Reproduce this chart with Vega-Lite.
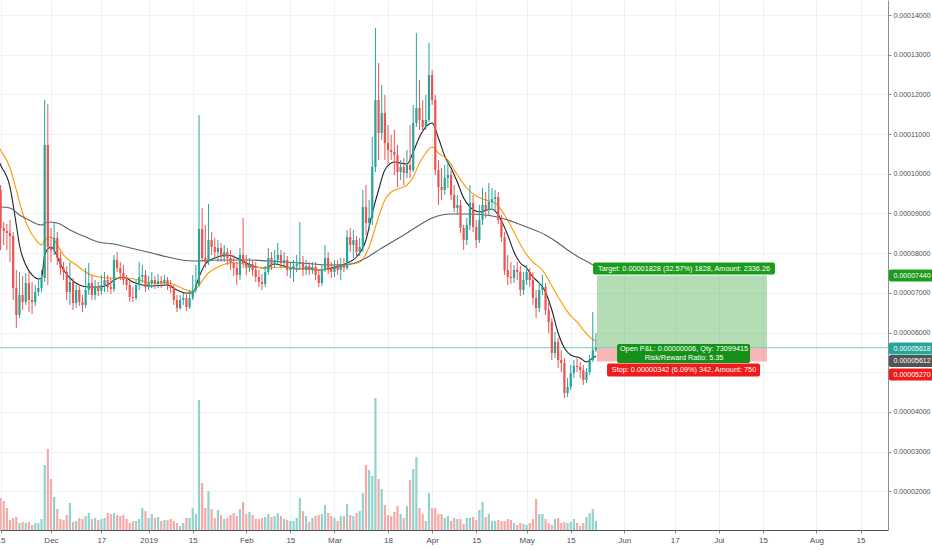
{
"$schema": "https://vega.github.io/schema/vega-lite/v6.json",
"width": 888, "height": 530,
"autosize": {"type": "none"},
"padding": {"left": 0, "top": 0, "right": 44, "bottom": 20},
"background": "white",
"config": {"view": {"stroke": null}, "font": "Liberation Sans, Arial, sans-serif"},
"datasets": {
"candles": [
{"date":"2018-11-15","open":0.00009592,"high":0.00009718,"low":0.00008081,"close":0.00008635,"volume":32},
{"date":"2018-11-16","open":0.00008635,"high":0.00008786,"low":0.00008206,"close":0.00008559,"volume":29},
{"date":"2018-11-17","open":0.00008559,"high":0.00008735,"low":0.00008081,"close":0.00008509,"volume":22},
{"date":"2018-11-18","open":0.00008509,"high":0.00008836,"low":0.00007778,"close":0.00008433,"volume":10},
{"date":"2018-11-19","open":0.00008433,"high":0.00008534,"low":0.00006821,"close":0.00007123,"volume":12},
{"date":"2018-11-20","open":0.00007123,"high":0.00007577,"low":0.00006116,"close":0.00006443,"volume":13},
{"date":"2018-11-21","open":0.00006443,"high":0.00007526,"low":0.00006368,"close":0.00006947,"volume":7},
{"date":"2018-11-22","open":0.00006947,"high":0.00007426,"low":0.00006569,"close":0.00006771,"volume":8},
{"date":"2018-11-23","open":0.00006771,"high":0.00007501,"low":0.00006695,"close":0.00007249,"volume":7},
{"date":"2018-11-24","open":0.00007249,"high":0.00007526,"low":0.00006519,"close":0.00006821,"volume":8},
{"date":"2018-11-25","open":0.00006821,"high":0.00007274,"low":0.00006468,"close":0.00006771,"volume":5},
{"date":"2018-11-26","open":0.00006771,"high":0.00007199,"low":0.00006670,"close":0.00007023,"volume":7},
{"date":"2018-11-27","open":0.00007023,"high":0.00007375,"low":0.00006922,"close":0.00007123,"volume":7},
{"date":"2018-11-28","open":0.00007123,"high":0.00007577,"low":0.00007023,"close":0.00007375,"volume":11},
{"date":"2018-11-29","open":0.00007375,"high":0.00011859,"low":0.00007274,"close":0.00010725,"volume":65},
{"date":"2018-11-30","open":0.00010725,"high":0.00011758,"low":0.00007199,"close":0.00008156,"volume":81},
{"date":"2018-12-01","open":0.00008156,"high":0.00008635,"low":0.00007778,"close":0.00008081,"volume":51},
{"date":"2018-12-02","open":0.00008081,"high":0.00008786,"low":0.00007955,"close":0.00008383,"volume":33},
{"date":"2018-12-03","open":0.00008383,"high":0.00008534,"low":0.00007703,"close":0.00007879,"volume":21},
{"date":"2018-12-04","open":0.00007879,"high":0.00008030,"low":0.00007451,"close":0.00007627,"volume":11},
{"date":"2018-12-05","open":0.00007627,"high":0.00007778,"low":0.00007325,"close":0.00007526,"volume":10},
{"date":"2018-12-06","open":0.00007526,"high":0.00007677,"low":0.00006821,"close":0.00007023,"volume":15},
{"date":"2018-12-07","open":0.00007023,"high":0.00007778,"low":0.00006695,"close":0.00007274,"volume":27},
{"date":"2018-12-08","open":0.00007274,"high":0.00007375,"low":0.00006569,"close":0.00006745,"volume":8},
{"date":"2018-12-09","open":0.00006745,"high":0.00007199,"low":0.00006619,"close":0.00007073,"volume":9},
{"date":"2018-12-10","open":0.00007073,"high":0.00007224,"low":0.00006670,"close":0.00006771,"volume":12},
{"date":"2018-12-11","open":0.00006771,"high":0.00006947,"low":0.00006519,"close":0.00006695,"volume":11},
{"date":"2018-12-12","open":0.00006695,"high":0.00007627,"low":0.00006619,"close":0.00007073,"volume":14},
{"date":"2018-12-13","open":0.00007073,"high":0.00007753,"low":0.00006947,"close":0.00007249,"volume":17},
{"date":"2018-12-14","open":0.00007249,"high":0.00007451,"low":0.00006821,"close":0.00006947,"volume":11},
{"date":"2018-12-15","open":0.00006947,"high":0.00007325,"low":0.00006821,"close":0.00007123,"volume":12},
{"date":"2018-12-16","open":0.00007123,"high":0.00007274,"low":0.00006922,"close":0.00007048,"volume":10},
{"date":"2018-12-17","open":0.00007048,"high":0.00007451,"low":0.00006947,"close":0.00007199,"volume":11},
{"date":"2018-12-18","open":0.00007199,"high":0.00007526,"low":0.00007023,"close":0.00007325,"volume":12},
{"date":"2018-12-19","open":0.00007325,"high":0.00007451,"low":0.00007023,"close":0.00007148,"volume":17},
{"date":"2018-12-20","open":0.00007148,"high":0.00007375,"low":0.00006972,"close":0.00007098,"volume":16},
{"date":"2018-12-21","open":0.00007098,"high":0.00007955,"low":0.00007023,"close":0.00007829,"volume":17},
{"date":"2018-12-22","open":0.00007829,"high":0.00008030,"low":0.00007526,"close":0.00007627,"volume":15},
{"date":"2018-12-23","open":0.00007627,"high":0.00007778,"low":0.00007325,"close":0.00007501,"volume":14},
{"date":"2018-12-24","open":0.00007501,"high":0.00007703,"low":0.00007199,"close":0.00007325,"volume":15},
{"date":"2018-12-25","open":0.00007325,"high":0.00007451,"low":0.00007073,"close":0.00007199,"volume":11},
{"date":"2018-12-26","open":0.00007199,"high":0.00007325,"low":0.00006771,"close":0.00006897,"volume":7},
{"date":"2018-12-27","open":0.00006897,"high":0.00007148,"low":0.00006771,"close":0.00006871,"volume":9},
{"date":"2018-12-28","open":0.00006871,"high":0.00007325,"low":0.00006821,"close":0.00007199,"volume":9},
{"date":"2018-12-29","open":0.00007199,"high":0.00007778,"low":0.00007073,"close":0.00007400,"volume":11},
{"date":"2018-12-30","open":0.00007400,"high":0.00007703,"low":0.00007249,"close":0.00007451,"volume":22},
{"date":"2018-12-31","open":0.00007451,"high":0.00007577,"low":0.00007023,"close":0.00007148,"volume":19},
{"date":"2019-01-01","open":0.00007148,"high":0.00007426,"low":0.00007073,"close":0.00007249,"volume":12},
{"date":"2019-01-02","open":0.00007249,"high":0.00007526,"low":0.00007123,"close":0.00007325,"volume":16},
{"date":"2019-01-03","open":0.00007325,"high":0.00007426,"low":0.00007098,"close":0.00007224,"volume":12},
{"date":"2019-01-04","open":0.00007224,"high":0.00007476,"low":0.00007123,"close":0.00007300,"volume":13},
{"date":"2019-01-05","open":0.00007300,"high":0.00007426,"low":0.00007123,"close":0.00007249,"volume":9},
{"date":"2019-01-06","open":0.00007249,"high":0.00007451,"low":0.00007174,"close":0.00007325,"volume":10},
{"date":"2019-01-07","open":0.00007325,"high":0.00007400,"low":0.00007073,"close":0.00007199,"volume":10},
{"date":"2019-01-08","open":0.00007199,"high":0.00007325,"low":0.00006997,"close":0.00007123,"volume":11},
{"date":"2019-01-09","open":0.00007123,"high":0.00007199,"low":0.00006695,"close":0.00006821,"volume":9},
{"date":"2019-01-10","open":0.00006821,"high":0.00006947,"low":0.00006519,"close":0.00006619,"volume":7},
{"date":"2019-01-11","open":0.00006619,"high":0.00006947,"low":0.00006569,"close":0.00006821,"volume":4},
{"date":"2019-01-12","open":0.00006821,"high":0.00006997,"low":0.00006695,"close":0.00006871,"volume":7},
{"date":"2019-01-13","open":0.00006871,"high":0.00006972,"low":0.00006544,"close":0.00006645,"volume":12},
{"date":"2019-01-14","open":0.00006645,"high":0.00007073,"low":0.00006594,"close":0.00006871,"volume":12},
{"date":"2019-01-15","open":0.00006871,"high":0.00007451,"low":0.00006821,"close":0.00007073,"volume":22},
{"date":"2019-01-16","open":0.00007073,"high":0.00007703,"low":0.00006997,"close":0.00007199,"volume":16},
{"date":"2019-01-17","open":0.00007199,"high":0.00011481,"low":0.00007148,"close":0.00008609,"volume":130},
{"date":"2019-01-18","open":0.00008609,"high":0.00009138,"low":0.00007778,"close":0.00007879,"volume":47},
{"date":"2019-01-19","open":0.00007879,"high":0.00008710,"low":0.00007627,"close":0.00007778,"volume":22},
{"date":"2019-01-20","open":0.00007778,"high":0.00009239,"low":0.00007703,"close":0.00008332,"volume":39},
{"date":"2019-01-21","open":0.00008332,"high":0.00008534,"low":0.00007955,"close":0.00008156,"volume":21},
{"date":"2019-01-22","open":0.00008156,"high":0.00008383,"low":0.00007879,"close":0.00008030,"volume":12},
{"date":"2019-01-23","open":0.00008030,"high":0.00008332,"low":0.00007778,"close":0.00008131,"volume":20},
{"date":"2019-01-24","open":0.00008131,"high":0.00008257,"low":0.00007778,"close":0.00007904,"volume":15},
{"date":"2019-01-25","open":0.00007904,"high":0.00008206,"low":0.00007778,"close":0.00008030,"volume":11},
{"date":"2019-01-26","open":0.00008030,"high":0.00008131,"low":0.00007703,"close":0.00007879,"volume":12},
{"date":"2019-01-27","open":0.00007879,"high":0.00008081,"low":0.00007577,"close":0.00007753,"volume":15},
{"date":"2019-01-28","open":0.00007753,"high":0.00007955,"low":0.00007426,"close":0.00007627,"volume":17},
{"date":"2019-01-29","open":0.00007627,"high":0.00007778,"low":0.00007199,"close":0.00007451,"volume":14},
{"date":"2019-01-30","open":0.00007451,"high":0.00008131,"low":0.00007325,"close":0.00007955,"volume":21},
{"date":"2019-01-31","open":0.00007955,"high":0.00008887,"low":0.00007627,"close":0.00007753,"volume":28},
{"date":"2019-02-01","open":0.00007753,"high":0.00007955,"low":0.00007451,"close":0.00007627,"volume":16},
{"date":"2019-02-02","open":0.00007627,"high":0.00007879,"low":0.00007526,"close":0.00007728,"volume":18},
{"date":"2019-02-03","open":0.00007728,"high":0.00007829,"low":0.00007426,"close":0.00007577,"volume":15},
{"date":"2019-02-04","open":0.00007577,"high":0.00007778,"low":0.00007274,"close":0.00007400,"volume":11},
{"date":"2019-02-05","open":0.00007400,"high":0.00007577,"low":0.00007148,"close":0.00007274,"volume":11},
{"date":"2019-02-06","open":0.00007274,"high":0.00007476,"low":0.00007073,"close":0.00007224,"volume":12},
{"date":"2019-02-07","open":0.00007224,"high":0.00007677,"low":0.00007148,"close":0.00007526,"volume":13},
{"date":"2019-02-08","open":0.00007526,"high":0.00008131,"low":0.00007451,"close":0.00007879,"volume":16},
{"date":"2019-02-09","open":0.00007879,"high":0.00008030,"low":0.00007577,"close":0.00007703,"volume":13},
{"date":"2019-02-10","open":0.00007703,"high":0.00008081,"low":0.00007627,"close":0.00007829,"volume":14},
{"date":"2019-02-11","open":0.00007829,"high":0.00008257,"low":0.00007728,"close":0.00007955,"volume":17},
{"date":"2019-02-12","open":0.00007955,"high":0.00008081,"low":0.00007627,"close":0.00007753,"volume":14},
{"date":"2019-02-13","open":0.00007753,"high":0.00008030,"low":0.00007627,"close":0.00007829,"volume":11},
{"date":"2019-02-14","open":0.00007829,"high":0.00007929,"low":0.00007426,"close":0.00007577,"volume":10},
{"date":"2019-02-15","open":0.00007577,"high":0.00007778,"low":0.00007375,"close":0.00007627,"volume":9},
{"date":"2019-02-16","open":0.00007627,"high":0.00007829,"low":0.00007274,"close":0.00007677,"volume":9},
{"date":"2019-02-17","open":0.00007677,"high":0.00007955,"low":0.00007526,"close":0.00007728,"volume":12},
{"date":"2019-02-18","open":0.00007728,"high":0.00008786,"low":0.00007577,"close":0.00007778,"volume":32},
{"date":"2019-02-19","open":0.00007778,"high":0.00007929,"low":0.00007426,"close":0.00007577,"volume":19},
{"date":"2019-02-20","open":0.00007577,"high":0.00007829,"low":0.00007451,"close":0.00007677,"volume":14},
{"date":"2019-02-21","open":0.00007677,"high":0.00007778,"low":0.00007451,"close":0.00007577,"volume":8},
{"date":"2019-02-22","open":0.00007577,"high":0.00007778,"low":0.00007476,"close":0.00007652,"volume":12},
{"date":"2019-02-23","open":0.00007652,"high":0.00007778,"low":0.00007325,"close":0.00007451,"volume":14},
{"date":"2019-02-24","open":0.00007451,"high":0.00007577,"low":0.00007148,"close":0.00007249,"volume":15},
{"date":"2019-02-25","open":0.00007249,"high":0.00007703,"low":0.00007174,"close":0.00007577,"volume":16},
{"date":"2019-02-26","open":0.00007577,"high":0.00008206,"low":0.00007526,"close":0.00007879,"volume":25},
{"date":"2019-02-27","open":0.00007879,"high":0.00008030,"low":0.00007476,"close":0.00007627,"volume":17},
{"date":"2019-02-28","open":0.00007627,"high":0.00007778,"low":0.00007375,"close":0.00007526,"volume":14},
{"date":"2019-03-01","open":0.00007526,"high":0.00007829,"low":0.00007400,"close":0.00007677,"volume":12},
{"date":"2019-03-02","open":0.00007677,"high":0.00007829,"low":0.00007451,"close":0.00007577,"volume":9},
{"date":"2019-03-03","open":0.00007577,"high":0.00007879,"low":0.00007325,"close":0.00007703,"volume":14},
{"date":"2019-03-04","open":0.00007703,"high":0.00007879,"low":0.00007526,"close":0.00007627,"volume":14},
{"date":"2019-03-05","open":0.00007627,"high":0.00008584,"low":0.00007577,"close":0.00008408,"volume":26},
{"date":"2019-03-06","open":0.00008408,"high":0.00008635,"low":0.00008030,"close":0.00008206,"volume":15},
{"date":"2019-03-07","open":0.00008206,"high":0.00008584,"low":0.00007879,"close":0.00008332,"volume":14},
{"date":"2019-03-08","open":0.00008332,"high":0.00008433,"low":0.00007879,"close":0.00008030,"volume":17},
{"date":"2019-03-09","open":0.00008030,"high":0.00008383,"low":0.00007929,"close":0.00008156,"volume":19},
{"date":"2019-03-10","open":0.00008156,"high":0.00009592,"low":0.00008030,"close":0.00009164,"volume":37},
{"date":"2019-03-11","open":0.00009164,"high":0.00009718,"low":0.00008458,"close":0.00008761,"volume":65},
{"date":"2019-03-12","open":0.00008761,"high":0.00009340,"low":0.00008584,"close":0.00008887,"volume":60},
{"date":"2019-03-13","open":0.00008887,"high":0.00010927,"low":0.00008710,"close":0.00010171,"volume":54},
{"date":"2019-03-14","open":0.00010171,"high":0.00013673,"low":0.00010045,"close":0.00011859,"volume":132},
{"date":"2019-03-15","open":0.00011859,"high":0.00012791,"low":0.00010348,"close":0.00011028,"volume":51},
{"date":"2019-03-16","open":0.00011028,"high":0.00012237,"low":0.00010851,"close":0.00011531,"volume":41},
{"date":"2019-03-17","open":0.00011531,"high":0.00011985,"low":0.00010348,"close":0.00010776,"volume":25},
{"date":"2019-03-18","open":0.00010776,"high":0.00011229,"low":0.00010222,"close":0.00010599,"volume":15},
{"date":"2019-03-19","open":0.00010599,"high":0.00010977,"low":0.00010348,"close":0.00010549,"volume":14},
{"date":"2019-03-20","open":0.00010549,"high":0.00011103,"low":0.00009970,"close":0.00010473,"volume":18},
{"date":"2019-03-21","open":0.00010473,"high":0.00010725,"low":0.00009667,"close":0.00010045,"volume":24},
{"date":"2019-03-22","open":0.00010045,"high":0.00010348,"low":0.00009844,"close":0.00010171,"volume":16},
{"date":"2019-03-23","open":0.00010171,"high":0.00010398,"low":0.00009718,"close":0.00010020,"volume":12},
{"date":"2019-03-24","open":0.00010020,"high":0.00010599,"low":0.00009894,"close":0.00010222,"volume":24},
{"date":"2019-03-25","open":0.00010222,"high":0.00011229,"low":0.00009894,"close":0.00010096,"volume":50},
{"date":"2019-03-26","open":0.00010096,"high":0.00011733,"low":0.00010045,"close":0.00011279,"volume":61},
{"date":"2019-03-27","open":0.00011279,"high":0.00013547,"low":0.00011179,"close":0.00011657,"volume":73},
{"date":"2019-03-28","open":0.00011657,"high":0.00012363,"low":0.00011103,"close":0.00011355,"volume":22},
{"date":"2019-03-29","open":0.00011355,"high":0.00011859,"low":0.00011028,"close":0.00011179,"volume":16},
{"date":"2019-03-30","open":0.00011179,"high":0.00011985,"low":0.00011103,"close":0.00011355,"volume":9},
{"date":"2019-03-31","open":0.00011355,"high":0.00013295,"low":0.00011305,"close":0.00012489,"volume":37},
{"date":"2019-04-01","open":0.00012489,"high":0.00012615,"low":0.00011733,"close":0.00011859,"volume":22},
{"date":"2019-04-02","open":0.00011859,"high":0.00011985,"low":0.00009970,"close":0.00010096,"volume":22},
{"date":"2019-04-03","open":0.00010096,"high":0.00010348,"low":0.00009214,"close":0.00009667,"volume":16},
{"date":"2019-04-04","open":0.00009667,"high":0.00010146,"low":0.00009340,"close":0.00009592,"volume":16},
{"date":"2019-04-05","open":0.00009592,"high":0.00010222,"low":0.00009466,"close":0.00009894,"volume":12},
{"date":"2019-04-06","open":0.00009894,"high":0.00010348,"low":0.00009642,"close":0.00009970,"volume":14},
{"date":"2019-04-07","open":0.00009970,"high":0.00010096,"low":0.00009340,"close":0.00009466,"volume":9},
{"date":"2019-04-08","open":0.00009466,"high":0.00009718,"low":0.00009038,"close":0.00009138,"volume":12},
{"date":"2019-04-09","open":0.00009138,"high":0.00009466,"low":0.00008962,"close":0.00009214,"volume":11},
{"date":"2019-04-10","open":0.00009214,"high":0.00009340,"low":0.00008509,"close":0.00008635,"volume":11},
{"date":"2019-04-11","open":0.00008635,"high":0.00008710,"low":0.00008081,"close":0.00008332,"volume":6},
{"date":"2019-04-12","open":0.00008332,"high":0.00008887,"low":0.00008206,"close":0.00008710,"volume":12},
{"date":"2019-04-13","open":0.00008710,"high":0.00009718,"low":0.00008584,"close":0.00009264,"volume":12},
{"date":"2019-04-14","open":0.00009264,"high":0.00009466,"low":0.00008534,"close":0.00008660,"volume":13},
{"date":"2019-04-15","open":0.00008660,"high":0.00008836,"low":0.00008131,"close":0.00008332,"volume":10},
{"date":"2019-04-16","open":0.00008332,"high":0.00009214,"low":0.00008257,"close":0.00008836,"volume":20},
{"date":"2019-04-17","open":0.00008836,"high":0.00009642,"low":0.00008710,"close":0.00009214,"volume":28},
{"date":"2019-04-18","open":0.00009214,"high":0.00009541,"low":0.00008887,"close":0.00009088,"volume":13},
{"date":"2019-04-19","open":0.00009088,"high":0.00009768,"low":0.00008962,"close":0.00009290,"volume":16},
{"date":"2019-04-20","open":0.00009290,"high":0.00009642,"low":0.00009138,"close":0.00009365,"volume":9},
{"date":"2019-04-21","open":0.00009365,"high":0.00009592,"low":0.00009088,"close":0.00009416,"volume":9},
{"date":"2019-04-22","open":0.00009416,"high":0.00009541,"low":0.00008735,"close":0.00008836,"volume":10},
{"date":"2019-04-23","open":0.00008836,"high":0.00008962,"low":0.00008282,"close":0.00008408,"volume":9},
{"date":"2019-04-24","open":0.00008408,"high":0.00008534,"low":0.00007451,"close":0.00007577,"volume":9},
{"date":"2019-04-25","open":0.00007577,"high":0.00007955,"low":0.00007199,"close":0.00007400,"volume":11},
{"date":"2019-04-26","open":0.00007400,"high":0.00007778,"low":0.00007224,"close":0.00007375,"volume":10},
{"date":"2019-04-27","open":0.00007375,"high":0.00007703,"low":0.00007249,"close":0.00007577,"volume":7},
{"date":"2019-04-28","open":0.00007577,"high":0.00007778,"low":0.00007325,"close":0.00007526,"volume":5},
{"date":"2019-04-29","open":0.00007526,"high":0.00007677,"low":0.00006922,"close":0.00007073,"volume":7},
{"date":"2019-04-30","open":0.00007073,"high":0.00007526,"low":0.00006947,"close":0.00007325,"volume":6},
{"date":"2019-05-01","open":0.00007325,"high":0.00007703,"low":0.00007199,"close":0.00007526,"volume":5},
{"date":"2019-05-02","open":0.00007526,"high":0.00007627,"low":0.00007148,"close":0.00007325,"volume":7},
{"date":"2019-05-03","open":0.00007325,"high":0.00007526,"low":0.00006695,"close":0.00006871,"volume":11},
{"date":"2019-05-04","open":0.00006871,"high":0.00007073,"low":0.00006368,"close":0.00006619,"volume":31},
{"date":"2019-05-05","open":0.00006619,"high":0.00007249,"low":0.00006519,"close":0.00007073,"volume":16},
{"date":"2019-05-06","open":0.00007073,"high":0.00007451,"low":0.00006947,"close":0.00007148,"volume":16},
{"date":"2019-05-07","open":0.00007148,"high":0.00007249,"low":0.00006443,"close":0.00006569,"volume":11},
{"date":"2019-05-08","open":0.00006569,"high":0.00006745,"low":0.00005990,"close":0.00006267,"volume":7},
{"date":"2019-05-09","open":0.00006267,"high":0.00006368,"low":0.00005310,"close":0.00005486,"volume":5},
{"date":"2019-05-10","open":0.00005486,"high":0.00006015,"low":0.00005360,"close":0.00005763,"volume":11},
{"date":"2019-05-11","open":0.00005763,"high":0.00005864,"low":0.00005108,"close":0.00005310,"volume":12},
{"date":"2019-05-12","open":0.00005310,"high":0.00005562,"low":0.00005007,"close":0.00005234,"volume":7},
{"date":"2019-05-13","open":0.00005234,"high":0.00005360,"low":0.00004352,"close":0.00004478,"volume":8},
{"date":"2019-05-14","open":0.00004478,"high":0.00004856,"low":0.00004378,"close":0.00004629,"volume":7},
{"date":"2019-05-15","open":0.00004629,"high":0.00005184,"low":0.00004554,"close":0.00004982,"volume":8},
{"date":"2019-05-16","open":0.00004982,"high":0.00005310,"low":0.00004856,"close":0.00005158,"volume":11},
{"date":"2019-05-17","open":0.00005158,"high":0.00005360,"low":0.00005007,"close":0.00005133,"volume":7},
{"date":"2019-05-18","open":0.00005133,"high":0.00005259,"low":0.00004856,"close":0.00005058,"volume":4},
{"date":"2019-05-19","open":0.00005058,"high":0.00005184,"low":0.00004680,"close":0.00004806,"volume":7},
{"date":"2019-05-20","open":0.00004806,"high":0.00005108,"low":0.00004730,"close":0.00005007,"volume":13},
{"date":"2019-05-21","open":0.00005007,"high":0.00005436,"low":0.00004932,"close":0.00005310,"volume":17},
{"date":"2019-05-22","open":0.00005310,"high":0.00006519,"low":0.00005259,"close":0.00005562,"volume":21},
{"date":"2019-05-23","open":0.00005562,"high":0.00005990,"low":0.00005511,"close":0.00005618,"volume":9}
],
"ma": [
{"date":"2018-11-14","ma":"fast","value":0.00010398},
{"date":"2018-11-15","ma":"fast","value":0.00010222},
{"date":"2018-11-18","ma":"fast","value":0.00009667},
{"date":"2018-11-20","ma":"fast","value":0.00008710},
{"date":"2018-11-21","ma":"fast","value":0.00008206},
{"date":"2018-11-23","ma":"fast","value":0.00007703},
{"date":"2018-11-25","ma":"fast","value":0.00007451},
{"date":"2018-11-27","ma":"fast","value":0.00007350},
{"date":"2018-11-28","ma":"fast","value":0.00007375},
{"date":"2018-11-29","ma":"fast","value":0.00007955},
{"date":"2018-11-30","ma":"fast","value":0.00008106},
{"date":"2018-12-01","ma":"fast","value":0.00008156},
{"date":"2018-12-02","ma":"fast","value":0.00008081},
{"date":"2018-12-03","ma":"fast","value":0.00007904},
{"date":"2018-12-05","ma":"fast","value":0.00007577},
{"date":"2018-12-08","ma":"fast","value":0.00007300},
{"date":"2018-12-10","ma":"fast","value":0.00007199},
{"date":"2018-12-13","ma":"fast","value":0.00007148},
{"date":"2018-12-16","ma":"fast","value":0.00007148},
{"date":"2018-12-19","ma":"fast","value":0.00007199},
{"date":"2018-12-21","ma":"fast","value":0.00007325},
{"date":"2018-12-24","ma":"fast","value":0.00007400},
{"date":"2018-12-27","ma":"fast","value":0.00007274},
{"date":"2018-12-30","ma":"fast","value":0.00007199},
{"date":"2019-01-02","ma":"fast","value":0.00007174},
{"date":"2019-01-07","ma":"fast","value":0.00007199},
{"date":"2019-01-10","ma":"fast","value":0.00007073},
{"date":"2019-01-13","ma":"fast","value":0.00006997},
{"date":"2019-01-15","ma":"fast","value":0.00006997},
{"date":"2019-01-17","ma":"fast","value":0.00007400},
{"date":"2019-01-19","ma":"fast","value":0.00007728},
{"date":"2019-01-22","ma":"fast","value":0.00007879},
{"date":"2019-01-26","ma":"fast","value":0.00007955},
{"date":"2019-01-29","ma":"fast","value":0.00007879},
{"date":"2019-02-01","ma":"fast","value":0.00007753},
{"date":"2019-02-04","ma":"fast","value":0.00007652},
{"date":"2019-02-07","ma":"fast","value":0.00007627},
{"date":"2019-02-10","ma":"fast","value":0.00007728},
{"date":"2019-02-13","ma":"fast","value":0.00007677},
{"date":"2019-02-17","ma":"fast","value":0.00007602},
{"date":"2019-02-20","ma":"fast","value":0.00007627},
{"date":"2019-02-24","ma":"fast","value":0.00007577},
{"date":"2019-02-28","ma":"fast","value":0.00007627},
{"date":"2019-03-05","ma":"fast","value":0.00007753},
{"date":"2019-03-08","ma":"fast","value":0.00007904},
{"date":"2019-03-11","ma":"fast","value":0.00008332},
{"date":"2019-03-13","ma":"fast","value":0.00009012},
{"date":"2019-03-15","ma":"fast","value":0.00009592},
{"date":"2019-03-17","ma":"fast","value":0.00010096},
{"date":"2019-03-20","ma":"fast","value":0.00010297},
{"date":"2019-03-22","ma":"fast","value":0.00010272},
{"date":"2019-03-24","ma":"fast","value":0.00010247},
{"date":"2019-03-26","ma":"fast","value":0.00010549},
{"date":"2019-03-28","ma":"fast","value":0.00010927},
{"date":"2019-03-30","ma":"fast","value":0.00011179},
{"date":"2019-04-01","ma":"fast","value":0.00011279},
{"date":"2019-04-03","ma":"fast","value":0.00010902},
{"date":"2019-04-05","ma":"fast","value":0.00010448},
{"date":"2019-04-07","ma":"fast","value":0.00010146},
{"date":"2019-04-09","ma":"fast","value":0.00009793},
{"date":"2019-04-11","ma":"fast","value":0.00009390},
{"date":"2019-04-13","ma":"fast","value":0.00009164},
{"date":"2019-04-16","ma":"fast","value":0.00009038},
{"date":"2019-04-20","ma":"fast","value":0.00009113},
{"date":"2019-04-22","ma":"fast","value":0.00008962},
{"date":"2019-04-25","ma":"fast","value":0.00008458},
{"date":"2019-04-27","ma":"fast","value":0.00008030},
{"date":"2019-04-29","ma":"fast","value":0.00007753},
{"date":"2019-05-01","ma":"fast","value":0.00007627},
{"date":"2019-05-03","ma":"fast","value":0.00007400},
{"date":"2019-05-05","ma":"fast","value":0.00007249},
{"date":"2019-05-07","ma":"fast","value":0.00007023},
{"date":"2019-05-09","ma":"fast","value":0.00006569},
{"date":"2019-05-11","ma":"fast","value":0.00005990},
{"date":"2019-05-13","ma":"fast","value":0.00005612},
{"date":"2019-05-15","ma":"fast","value":0.00005436},
{"date":"2019-05-18","ma":"fast","value":0.00005360},
{"date":"2019-05-20","ma":"fast","value":0.00005259},
{"date":"2019-05-22","ma":"fast","value":0.00005360},
{"date":"2019-05-23","ma":"fast","value":0.00005410},
{"date":"2018-11-14","ma":"mid","value":0.00010725},
{"date":"2018-11-15","ma":"mid","value":0.00010599},
{"date":"2018-11-18","ma":"mid","value":0.00010146},
{"date":"2018-11-20","ma":"mid","value":0.00009592},
{"date":"2018-11-22","ma":"mid","value":0.00009012},
{"date":"2018-11-24","ma":"mid","value":0.00008609},
{"date":"2018-11-26","ma":"mid","value":0.00008358},
{"date":"2018-11-28","ma":"mid","value":0.00008206},
{"date":"2018-11-29","ma":"mid","value":0.00008332},
{"date":"2018-12-01","ma":"mid","value":0.00008408},
{"date":"2018-12-03","ma":"mid","value":0.00008206},
{"date":"2018-12-05","ma":"mid","value":0.00007955},
{"date":"2018-12-09","ma":"mid","value":0.00007703},
{"date":"2018-12-12","ma":"mid","value":0.00007526},
{"date":"2018-12-16","ma":"mid","value":0.00007400},
{"date":"2018-12-20","ma":"mid","value":0.00007375},
{"date":"2018-12-25","ma":"mid","value":0.00007375},
{"date":"2018-12-29","ma":"mid","value":0.00007325},
{"date":"2019-01-02","ma":"mid","value":0.00007249},
{"date":"2019-01-07","ma":"mid","value":0.00007249},
{"date":"2019-01-13","ma":"mid","value":0.00007073},
{"date":"2019-01-15","ma":"mid","value":0.00007023},
{"date":"2019-01-17","ma":"mid","value":0.00007199},
{"date":"2019-01-20","ma":"mid","value":0.00007501},
{"date":"2019-01-23","ma":"mid","value":0.00007652},
{"date":"2019-01-27","ma":"mid","value":0.00007753},
{"date":"2019-01-30","ma":"mid","value":0.00007753},
{"date":"2019-02-03","ma":"mid","value":0.00007652},
{"date":"2019-02-08","ma":"mid","value":0.00007627},
{"date":"2019-02-12","ma":"mid","value":0.00007652},
{"date":"2019-02-16","ma":"mid","value":0.00007627},
{"date":"2019-02-20","ma":"mid","value":0.00007602},
{"date":"2019-02-24","ma":"mid","value":0.00007577},
{"date":"2019-02-28","ma":"mid","value":0.00007602},
{"date":"2019-03-05","ma":"mid","value":0.00007703},
{"date":"2019-03-09","ma":"mid","value":0.00007778},
{"date":"2019-03-12","ma":"mid","value":0.00008156},
{"date":"2019-03-14","ma":"mid","value":0.00008660},
{"date":"2019-03-17","ma":"mid","value":0.00009340},
{"date":"2019-03-19","ma":"mid","value":0.00009541},
{"date":"2019-03-22","ma":"mid","value":0.00009642},
{"date":"2019-03-24","ma":"mid","value":0.00009718},
{"date":"2019-03-26","ma":"mid","value":0.00009919},
{"date":"2019-03-28","ma":"mid","value":0.00010272},
{"date":"2019-03-30","ma":"mid","value":0.00010524},
{"date":"2019-04-01","ma":"mid","value":0.00010675},
{"date":"2019-04-03","ma":"mid","value":0.00010524},
{"date":"2019-04-06","ma":"mid","value":0.00010348},
{"date":"2019-04-09","ma":"mid","value":0.00009970},
{"date":"2019-04-12","ma":"mid","value":0.00009642},
{"date":"2019-04-15","ma":"mid","value":0.00009441},
{"date":"2019-04-18","ma":"mid","value":0.00009340},
{"date":"2019-04-21","ma":"mid","value":0.00009264},
{"date":"2019-04-24","ma":"mid","value":0.00008962},
{"date":"2019-04-27","ma":"mid","value":0.00008534},
{"date":"2019-04-30","ma":"mid","value":0.00008081},
{"date":"2019-05-03","ma":"mid","value":0.00007778},
{"date":"2019-05-06","ma":"mid","value":0.00007577},
{"date":"2019-05-09","ma":"mid","value":0.00007174},
{"date":"2019-05-11","ma":"mid","value":0.00006897},
{"date":"2019-05-13","ma":"mid","value":0.00006645},
{"date":"2019-05-15","ma":"mid","value":0.00006418},
{"date":"2019-05-17","ma":"mid","value":0.00006267},
{"date":"2019-05-19","ma":"mid","value":0.00006065},
{"date":"2019-05-21","ma":"mid","value":0.00005889},
{"date":"2019-05-23","ma":"mid","value":0.00005788},
{"date":"2018-11-14","ma":"slow","value":0.00009164},
{"date":"2018-11-15","ma":"slow","value":0.00009164},
{"date":"2018-11-18","ma":"slow","value":0.00009138},
{"date":"2018-11-21","ma":"slow","value":0.00008962},
{"date":"2018-11-24","ma":"slow","value":0.00008836},
{"date":"2018-11-28","ma":"slow","value":0.00008710},
{"date":"2018-11-30","ma":"slow","value":0.00008786},
{"date":"2018-12-03","ma":"slow","value":0.00008761},
{"date":"2018-12-07","ma":"slow","value":0.00008584},
{"date":"2018-12-12","ma":"slow","value":0.00008408},
{"date":"2018-12-16","ma":"slow","value":0.00008282},
{"date":"2018-12-21","ma":"slow","value":0.00008231},
{"date":"2018-12-25","ma":"slow","value":0.00008156},
{"date":"2018-12-29","ma":"slow","value":0.00008081},
{"date":"2019-01-02","ma":"slow","value":0.00008005},
{"date":"2019-01-07","ma":"slow","value":0.00007904},
{"date":"2019-01-15","ma":"slow","value":0.00007803},
{"date":"2019-01-23","ma":"slow","value":0.00007829},
{"date":"2019-02-02","ma":"slow","value":0.00007829},
{"date":"2019-02-08","ma":"slow","value":0.00007803},
{"date":"2019-02-18","ma":"slow","value":0.00007753},
{"date":"2019-02-28","ma":"slow","value":0.00007703},
{"date":"2019-03-06","ma":"slow","value":0.00007728},
{"date":"2019-03-11","ma":"slow","value":0.00007879},
{"date":"2019-03-16","ma":"slow","value":0.00008131},
{"date":"2019-03-22","ma":"slow","value":0.00008408},
{"date":"2019-03-27","ma":"slow","value":0.00008660},
{"date":"2019-04-01","ma":"slow","value":0.00008887},
{"date":"2019-04-07","ma":"slow","value":0.00008987},
{"date":"2019-04-13","ma":"slow","value":0.00008987},
{"date":"2019-04-18","ma":"slow","value":0.00008962},
{"date":"2019-04-25","ma":"slow","value":0.00008836},
{"date":"2019-05-01","ma":"slow","value":0.00008660},
{"date":"2019-05-07","ma":"slow","value":0.00008458},
{"date":"2019-05-11","ma":"slow","value":0.00008257},
{"date":"2019-05-14","ma":"slow","value":0.00008081},
{"date":"2019-05-18","ma":"slow","value":0.00007879},
{"date":"2019-05-21","ma":"slow","value":0.00007753},
{"date":"2019-05-23","ma":"slow","value":0.00007652}
],
"zones": [
{"date":"2019-05-23T08:00:00Z","end":"2019-07-16T07:30:00Z","price":0.00005612,"price2":0.0000744,"zone":"target"},
{"date":"2019-05-23T08:00:00Z","end":"2019-07-16T07:30:00Z","price":0.0000527,"price2":0.00005612,"zone":"stop"}
],
"lastprice": [
{"date":"2018-11-01","end":"2019-09-30","price":0.00005618}
],
"boxes": [
{"date":"2019-05-22T02:00:00Z","end":"2019-07-18T20:00:00Z","price":0.00007766,"price2":0.00007463,"kind":"target"},
{"date":"2019-05-29T17:00:00Z","end":"2019-07-10T22:00:00Z","price":0.00005713,"price2":0.00005234,"kind":"pnl"},
{"date":"2019-05-26T12:30:00Z","end":"2019-07-14T02:00:00Z","price":0.00005221,"price2":0.00004894,"kind":"stop"},
{"date":"2019-08-24T00:00:00Z","end":"2019-09-07T00:00:00Z","price":0.00007589,"price2":0.00007287,"kind":"target"},
{"date":"2019-08-24T00:00:00Z","end":"2019-09-07T00:00:00Z","price":0.0000575,"price2":0.00005448,"kind":"last"},
{"date":"2019-08-24T00:00:00Z","end":"2019-09-07T00:00:00Z","price":0.00005435,"price2":0.00005133,"kind":"entry"},
{"date":"2019-08-24T00:00:00Z","end":"2019-09-07T00:00:00Z","price":0.00005095,"price2":0.00004793,"kind":"stop"}
],
"plottexts": [
{"date":"2019-06-19T23:00:00Z","price":0.00007614,"label":"Target: 0.00001828 (32.57%) 1828, Amount: 2336.26"},
{"date":"2019-06-19T23:00:00Z","price":0.00005599,"label":"Open P&L: 0.00000006, Qty: 73099415"},
{"date":"2019-06-19T23:00:00Z","price":0.0000536,"label":"Risk/Reward Ratio: 5.35"},
{"date":"2019-06-19T23:00:00Z","price":0.00005058,"label":"Stop: 0.00000342 (6.09%) 342, Amount: 750"}
],
"axistexts": [
{"date":"2019-08-25T12:00:00Z","price":0.00007438,"label":"0.00007440"},
{"date":"2019-08-25T12:00:00Z","price":0.00005599,"label":"0.00005618"},
{"date":"2019-08-25T12:00:00Z","price":0.00005284,"label":"0.00005612"},
{"date":"2019-08-25T12:00:00Z","price":0.00004944,"label":"0.00005270"}
]
},
"encoding": {
"x": {"field": "date", "type": "temporal",
  "scale": {"type": "utc", "padding": 0, "domain": [{"year":2018,"month":11,"date":14,"hours":19,"minutes":37,"utc":true},{"year":2019,"month":8,"date":23,"hours":17,"minutes":16,"utc":true}]},
  "axis": {"title": null,
    "values": [
      {"year":2018,"month":11,"date":15,"utc":true},{"year":2018,"month":12,"date":1,"utc":true},{"year":2018,"month":12,"date":17,"utc":true},
      {"year":2019,"month":1,"date":1,"utc":true},{"year":2019,"month":1,"date":15,"utc":true},{"year":2019,"month":2,"date":1,"utc":true},
      {"year":2019,"month":2,"date":15,"utc":true},{"year":2019,"month":3,"date":1,"utc":true},{"year":2019,"month":3,"date":18,"utc":true},
      {"year":2019,"month":4,"date":1,"utc":true},{"year":2019,"month":4,"date":15,"utc":true},{"year":2019,"month":5,"date":1,"utc":true},
      {"year":2019,"month":5,"date":15,"utc":true},{"year":2019,"month":6,"date":1,"utc":true},{"year":2019,"month":6,"date":17,"utc":true},
      {"year":2019,"month":7,"date":1,"utc":true},{"year":2019,"month":7,"date":15,"utc":true},{"year":2019,"month":8,"date":1,"utc":true},
      {"year":2019,"month":8,"date":15,"utc":true}],
    "labelExpr": "utcdate(datum.value) == 1 ? (utcmonth(datum.value) == 0 ? utcFormat(datum.value, '%Y') : utcFormat(datum.value, '%b')) : utcFormat(datum.value, '%-d')",
    "grid": true, "gridColor": "#eef1f6", "gridWidth": 1,
    "domainColor": "#50535e", "tickColor": "#8a8d96", "tickSize": 3,
    "labelColor": "#4a4d57", "labelFontSize": 8, "labelPadding": 3,
    "labelFlush": false, "labelOverlap": false, "labelBound": false}}
},
"layer": [
  {"data": {"name": "candles"},
   "mark": {"type": "bar", "size": 2.2},
   "encoding": {
     "y": {"field": "volume", "type": "quantitative", "scale": {"domain": [0, 530], "nice": false}, "axis": null},
     "color": {"condition": {"test": "datum.close >= datum.open", "value": "#92d2cc"}, "value": "#f7a9a7"}
   }},
  {"layer": [
    {"data": {"name": "zones"},
     "mark": {"type": "rect", "opacity": 0.42},
     "encoding": {
       "x2": {"field": "end"},
       "y": {"field": "price", "type": "quantitative", "scale": {"domain": [0.0000102715, 0.0001437785], "nice": false, "zero": false},
         "axis": {"orient": "right", "title": null, "values": [0.00002,0.00003,0.00004,0.00005,0.00006,0.00007,0.00008,0.00009,0.0001,0.00011,0.00012,0.00013,0.00014], "labelExpr": "abs(datum.value - 0.00005) < 0.000000001 ? '' : format(datum.value, '.8f')", "grid": true, "gridColor": "#eef1f6", "gridWidth": 1, "domainColor": "#8a8d96", "tickColor": "#8a8d96", "tickSize": 3, "labelColor": "#4a4d57", "labelFontSize": 7, "labelPadding": 2, "labelOverlap": false, "labelBound": false}},
       "y2": {"field": "price2"},
       "fill": {"field": "zone", "type": "nominal", "scale": {"domain": ["target", "stop"], "range": ["#4caf50", "#ef5350"]}, "legend": null}
     }},
    {"data": {"name": "lastprice"},
     "mark": {"type": "rule", "color": "#7ccac2", "strokeWidth": 1, "clip": true},
     "encoding": {
       "x2": {"field": "end"},
       "y": {"field": "price", "type": "quantitative", "scale": {"domain": [0.0000102715, 0.0001437785], "nice": false, "zero": false},
         "axis": {"orient": "right", "title": null, "values": [0.00002,0.00003,0.00004,0.00005,0.00006,0.00007,0.00008,0.00009,0.0001,0.00011,0.00012,0.00013,0.00014], "labelExpr": "abs(datum.value - 0.00005) < 0.000000001 ? '' : format(datum.value, '.8f')", "grid": true, "gridColor": "#eef1f6", "gridWidth": 1, "domainColor": "#8a8d96", "tickColor": "#8a8d96", "tickSize": 3, "labelColor": "#4a4d57", "labelFontSize": 7, "labelPadding": 2, "labelOverlap": false, "labelBound": false}}
     }},
    {"data": {"name": "ma"},
     "mark": {"type": "line", "strokeWidth": 1.1, "interpolate": "monotone", "clip": true},
     "encoding": {
       "y": {"field": "value", "type": "quantitative", "scale": {"domain": [0.0000102715, 0.0001437785], "nice": false, "zero": false},
         "axis": {"orient": "right", "title": null, "values": [0.00002,0.00003,0.00004,0.00005,0.00006,0.00007,0.00008,0.00009,0.0001,0.00011,0.00012,0.00013,0.00014], "labelExpr": "abs(datum.value - 0.00005) < 0.000000001 ? '' : format(datum.value, '.8f')", "grid": true, "gridColor": "#eef1f6", "gridWidth": 1, "domainColor": "#8a8d96", "tickColor": "#8a8d96", "tickSize": 3, "labelColor": "#4a4d57", "labelFontSize": 7, "labelPadding": 2, "labelOverlap": false, "labelBound": false}},
       "stroke": {"field": "ma", "type": "nominal", "scale": {"domain": ["fast", "mid", "slow"], "range": ["#1e222d", "#ff9800", "#5d606b"]}, "legend": null}
     }},
    {"data": {"name": "candles"},
     "mark": {"type": "rule", "strokeWidth": 1},
     "encoding": {
       "y": {"field": "low", "type": "quantitative", "scale": {"domain": [0.0000102715, 0.0001437785], "nice": false, "zero": false},
         "axis": {"orient": "right", "title": null, "values": [0.00002,0.00003,0.00004,0.00005,0.00006,0.00007,0.00008,0.00009,0.0001,0.00011,0.00012,0.00013,0.00014], "labelExpr": "abs(datum.value - 0.00005) < 0.000000001 ? '' : format(datum.value, '.8f')", "grid": true, "gridColor": "#eef1f6", "gridWidth": 1, "domainColor": "#8a8d96", "tickColor": "#8a8d96", "tickSize": 3, "labelColor": "#4a4d57", "labelFontSize": 7, "labelPadding": 2, "labelOverlap": false, "labelBound": false}},
       "y2": {"field": "high"},
       "color": {"condition": {"test": "datum.close >= datum.open", "value": "#26a69a"}, "value": "#ef5350"}
     }},
    {"data": {"name": "candles"},
     "mark": {"type": "bar", "size": 2.2},
     "encoding": {
       "y": {"field": "open", "type": "quantitative", "scale": {"domain": [0.0000102715, 0.0001437785], "nice": false, "zero": false},
         "axis": {"orient": "right", "title": null, "values": [0.00002,0.00003,0.00004,0.00005,0.00006,0.00007,0.00008,0.00009,0.0001,0.00011,0.00012,0.00013,0.00014], "labelExpr": "abs(datum.value - 0.00005) < 0.000000001 ? '' : format(datum.value, '.8f')", "grid": true, "gridColor": "#eef1f6", "gridWidth": 1, "domainColor": "#8a8d96", "tickColor": "#8a8d96", "tickSize": 3, "labelColor": "#4a4d57", "labelFontSize": 7, "labelPadding": 2, "labelOverlap": false, "labelBound": false}},
       "y2": {"field": "close"},
       "color": {"condition": {"test": "datum.close >= datum.open", "value": "#26a69a"}, "value": "#ef5350"}
     }},
    {"data": {"name": "boxes"},
     "mark": {"type": "rect", "cornerRadius": 2},
     "encoding": {
       "x2": {"field": "end"},
       "y": {"field": "price", "type": "quantitative", "scale": {"domain": [0.0000102715, 0.0001437785], "nice": false, "zero": false},
         "axis": {"orient": "right", "title": null, "values": [0.00002,0.00003,0.00004,0.00005,0.00006,0.00007,0.00008,0.00009,0.0001,0.00011,0.00012,0.00013,0.00014], "labelExpr": "abs(datum.value - 0.00005) < 0.000000001 ? '' : format(datum.value, '.8f')", "grid": true, "gridColor": "#eef1f6", "gridWidth": 1, "domainColor": "#8a8d96", "tickColor": "#8a8d96", "tickSize": 3, "labelColor": "#4a4d57", "labelFontSize": 7, "labelPadding": 2, "labelOverlap": false, "labelBound": false}},
       "y2": {"field": "price2"},
       "color": {"field": "kind", "type": "nominal", "scale": {"domain": ["target", "pnl", "stop", "last", "entry"], "range": ["#1c9c1c", "#15911a", "#f01b1b", "#26a69a", "#545454"]}, "legend": null}
     }},
    {"data": {"name": "plottexts"},
     "mark": {"type": "text", "color": "white", "fontSize": 7.3, "align": "center", "baseline": "middle"},
     "encoding": {
       "y": {"field": "price", "type": "quantitative", "scale": {"domain": [0.0000102715, 0.0001437785], "nice": false, "zero": false},
         "axis": {"orient": "right", "title": null, "values": [0.00002,0.00003,0.00004,0.00005,0.00006,0.00007,0.00008,0.00009,0.0001,0.00011,0.00012,0.00013,0.00014], "labelExpr": "abs(datum.value - 0.00005) < 0.000000001 ? '' : format(datum.value, '.8f')", "grid": true, "gridColor": "#eef1f6", "gridWidth": 1, "domainColor": "#8a8d96", "tickColor": "#8a8d96", "tickSize": 3, "labelColor": "#4a4d57", "labelFontSize": 7, "labelPadding": 2, "labelOverlap": false, "labelBound": false}},
       "text": {"field": "label"}
     }},
    {"data": {"name": "axistexts"},
     "mark": {"type": "text", "color": "white", "fontSize": 7, "align": "left", "baseline": "middle"},
     "encoding": {
       "y": {"field": "price", "type": "quantitative", "scale": {"domain": [0.0000102715, 0.0001437785], "nice": false, "zero": false},
         "axis": {"orient": "right", "title": null, "values": [0.00002,0.00003,0.00004,0.00005,0.00006,0.00007,0.00008,0.00009,0.0001,0.00011,0.00012,0.00013,0.00014], "labelExpr": "abs(datum.value - 0.00005) < 0.000000001 ? '' : format(datum.value, '.8f')", "grid": true, "gridColor": "#eef1f6", "gridWidth": 1, "domainColor": "#8a8d96", "tickColor": "#8a8d96", "tickSize": 3, "labelColor": "#4a4d57", "labelFontSize": 7, "labelPadding": 2, "labelOverlap": false, "labelBound": false}},
       "text": {"field": "label"}
     }}
  ]}
],
"resolve": {"scale": {"y": "independent"}}
}
